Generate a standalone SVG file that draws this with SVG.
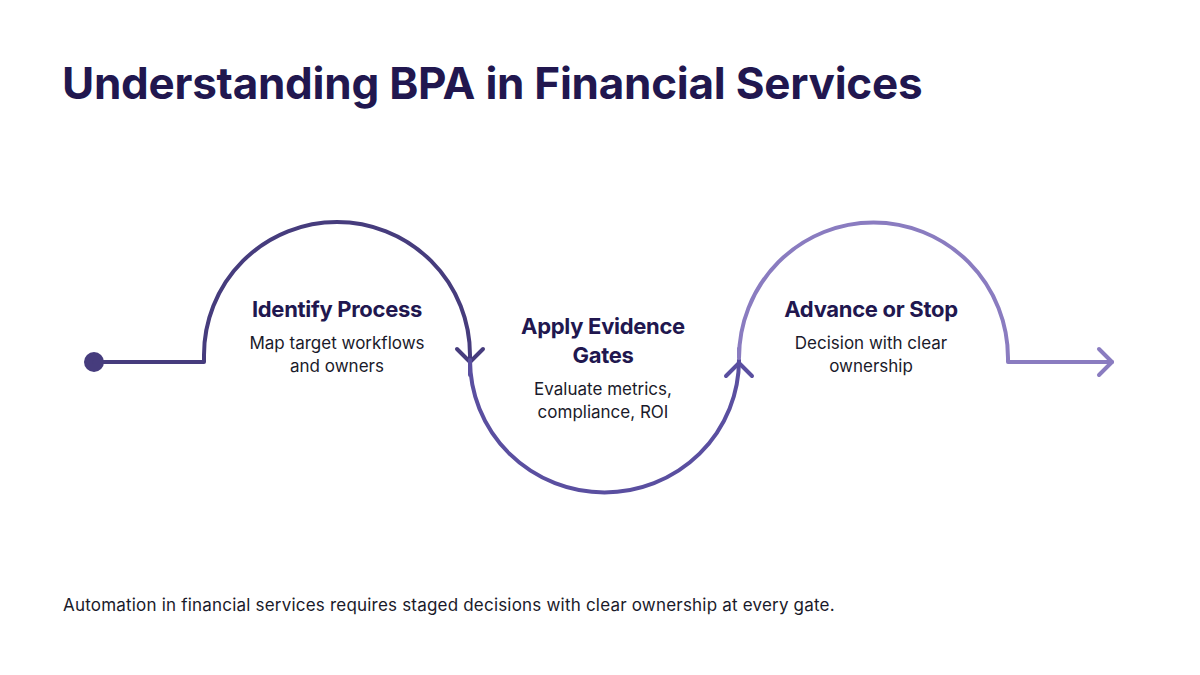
<svg xmlns="http://www.w3.org/2000/svg" width="1200" height="675" viewBox="0 0 1200 675">
<style>
.t{font-family:Inter,"Liberation Sans",sans-serif;font-weight:700;fill:#21174f}
.h{font-family:Inter,"Liberation Sans",sans-serif;font-weight:700;font-size:22px;fill:#21174f;text-anchor:middle;letter-spacing:-0.3px}
.d{font-family:Inter,"Liberation Sans",sans-serif;font-size:17px;fill:#1a1a2a;text-anchor:middle}
.c{fill:none;stroke-width:4;stroke-linecap:round;stroke-linejoin:round}
</style>
<rect width="1200" height="675" fill="#fff"/>
<text class="t" x="62" y="99" font-size="44" letter-spacing="-0.25">Understanding BPA in Financial Services</text>
<g id="connectors">
<circle cx="94" cy="362" r="10" fill="#463c7d"/>
<path class="c" stroke="#463c7d" d="M94,362 H204 V355 A133,133 0 0 1 470,355 V360"/>
<path class="c" stroke="#463c7d" d="M457,349 L470,362 L483,349"/>
<path class="c" stroke="#5a4fa0" d="M470,375 V360 A134,132 0 0 0 739,360 V364"/>
<path class="c" stroke="#5a4fa0" d="M726,376 L739,363 L752,376"/>
<path class="c" stroke="#8a7cc0" d="M739,348 V358 A134,135 0 0 1 1008,358 V362 H1112"/>
<path class="c" stroke="#8a7cc0" d="M1099,349 L1112,362 L1099,375"/>
</g>
<g id="node1"><text class="h" x="337" y="317">Identify Process</text>
<text class="d" x="337" y="349">Map target workflows</text><text class="d" x="337" y="372">and owners</text></g>
<g id="node2"><text class="h" x="603" y="334">Apply Evidence</text><text class="h" x="603" y="363">Gates</text>
<text class="d" x="603" y="395">Evaluate metrics,</text><text class="d" x="603" y="418">compliance, ROI</text></g>
<g id="node3"><text class="h" x="871" y="317">Advance or Stop</text>
<text class="d" x="871" y="349">Decision with clear</text><text class="d" x="871" y="372">ownership</text></g>
<text x="63" y="611" font-family="Inter,'Liberation Sans',sans-serif" font-size="17" letter-spacing="0.2" fill="#1a1a2a">Automation in financial services requires staged decisions with clear ownership at every gate.</text>
</svg>
